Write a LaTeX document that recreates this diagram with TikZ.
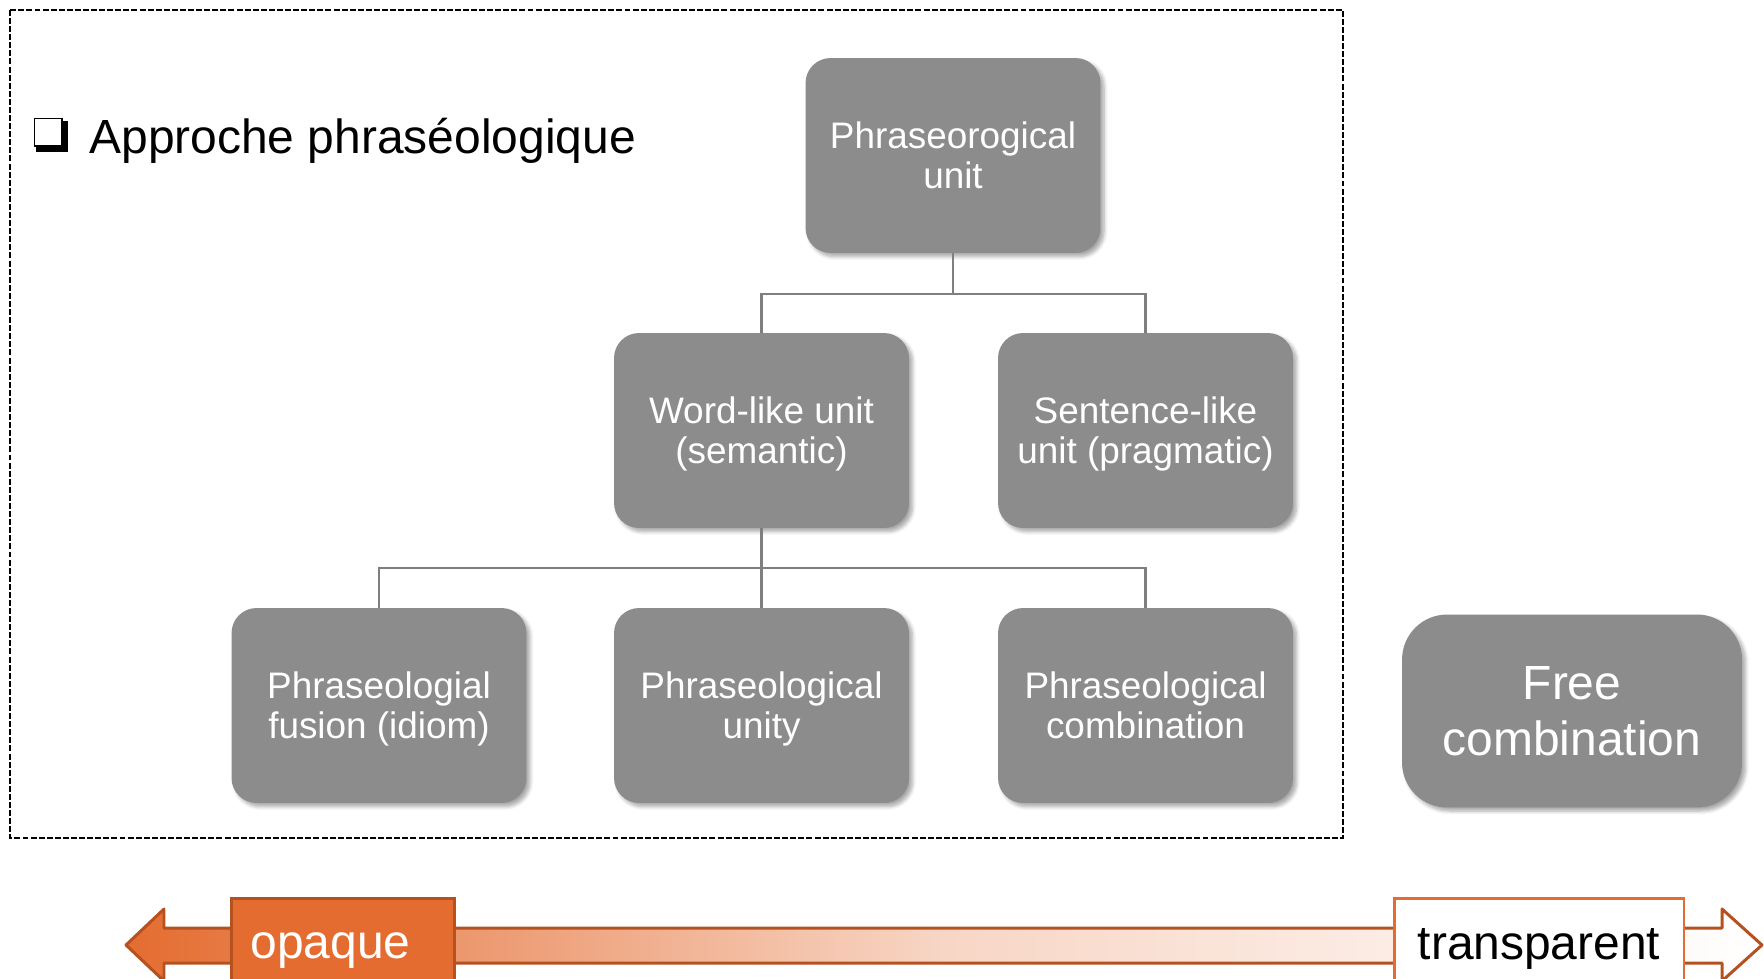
\documentclass[tikz,border=0pt]{standalone}
\usepackage{fontspec}
\setmainfont{Liberation Sans}
\usetikzlibrary{calc, positioning, shadows.blur}
\definecolor{unitgray}{RGB}{140, 140, 140}
\definecolor{linkgray}{RGB}{127, 127, 127}
\definecolor{scaleorange}{RGB}{228, 108, 48}
\definecolor{scaleedge}{RGB}{181, 80, 31}
% line struts, so that every box centres its lines alike
\newcommand{\tp}{\rule{0pt}{0.905em}}
\newcommand{\bt}{\rule[-0.212em]{0pt}{0.212em}}

\tikzset{
    unitbox/.style={fill=unitgray, rounded corners=0.5cm, minimum width=5.9cm,
        minimum height=3.9cm, inner sep=0pt, text=white, align=center,
        font=\fontsize{21}{23}\selectfont,
        blur shadow={shadow xshift=2pt, shadow yshift=-2pt, shadow blur steps=6, shadow opacity=35}},
    link/.style={draw=linkgray, line width=1.3pt},
    scalebox/.style={line width=1.7pt, minimum height=1.8cm, inner sep=0pt,
        text height=23.2pt, text depth=5.5pt, font=\fontsize{27.3}{30}\selectfont},
}

\begin{document}
\begin{tikzpicture}[x=0.02cm, y=-0.02cm]
    \useasboundingbox (0,0) rectangle (1764,978);
    \draw[line width=1.4pt, dash pattern=on 3.4pt off 1.2pt] (10,10) rectangle (1343,838);

    % title with box
    \fill (36,121) rectangle (68,152);
    \draw[fill=white, line width=0.8pt] (34.7,118.7) rectangle (62,146);
    \node[anchor=base west, inner sep=0pt, font=\fontsize{27.3}{30}\selectfont] (title)
        at (89,153) {Approche phraséologique};

    % tree
    \node[unitbox] (pu) at (953,155.5) {\tp Phraseorogical\\unit\bt};
    \node[unitbox] (wl) at (761.5,430.5) {\tp Word-like unit\\(semantic)\bt};
    \node[unitbox] (sl) at (1145.5,430.5) {\tp Sentence-like\\unit (pragmatic)\bt};
    \node[unitbox] (fu) at (379,705.5) {\tp Phraseologial\\fusion (idiom)\bt};
    \node[unitbox] (un) at (761.5,705.5) {\tp Phraseological\\unity\bt};
    \node[unitbox] (co) at (1145.5,705.5) {\tp Phraseological\\combination\bt};
    \node[unitbox, minimum width=6.8cm, minimum height=3.86cm, rounded corners=0.9cm,
        font=\fontsize{27.3}{32}\selectfont] (fr) at (1572,711) {\tp Free\\combination\bt};

    \draw[link] (pu.south) -- ++(0,41) -| (wl.north);
    \draw[link] (pu.south) -- ++(0,41) -| (sl.north);
    \foreach \kid in {fu, un, co} {
        \draw[link] (wl.south) -- ++(0,40) -| (\kid.north);
    }

    % scale
    \draw[scaleedge, line width=1.7pt, line join=round, left color=scaleorange,
        right color=white, middle color=scaleorange!28]
        (126,945) -- (164,909) -- (164,928) -- (1722,928) -- (1722,909) -- (1762,945)
        -- (1722,981) -- (1722,963) -- (164,963) -- (164,981) -- cycle;
    \node[scalebox, fill=scaleorange, draw=scaleedge, text=white, minimum width=4.48cm]
        (opq) at (343,943) {opaque\kern0.5cm};
    \node[scalebox, fill=white, draw=scaleorange, minimum width=5.8cm]
        (trn) at (1539,943.5) {transparent};
\end{tikzpicture}
\end{document}
